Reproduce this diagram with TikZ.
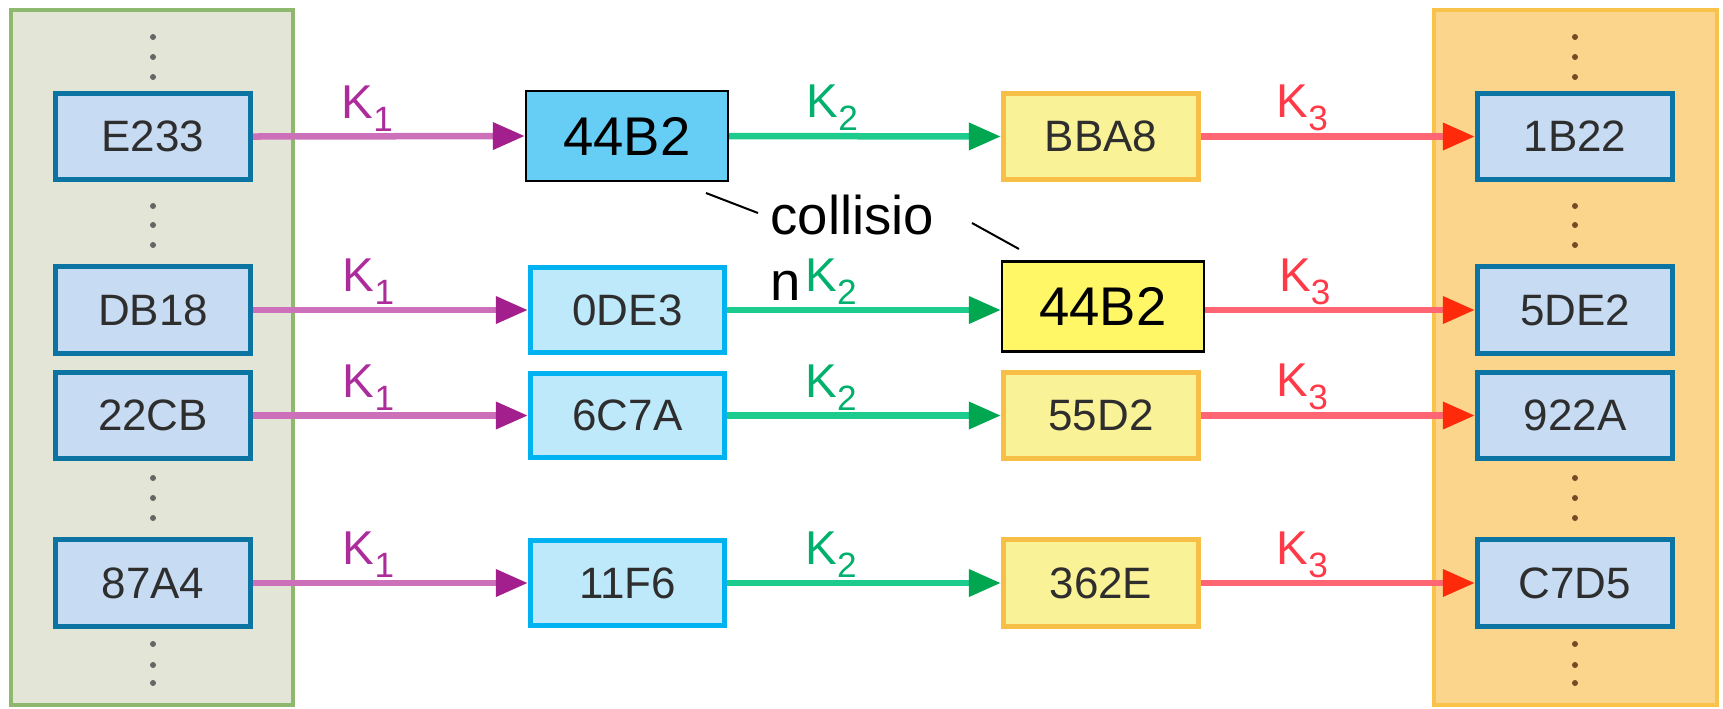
\documentclass[tikz,border=0pt]{standalone}
\usepackage{fontspec}
\setmainfont{Liberation Sans}
\usetikzlibrary{arrows.meta,positioning,calc}
\definecolor{srcfill}{HTML}{E3E5D6}
\definecolor{srcline}{HTML}{8DB86E}
\definecolor{dstfill}{HTML}{FAD58B}
\definecolor{dstline}{HTML}{F8C24B}
\definecolor{keyline}{HTML}{0B74A3}
\definecolor{keyfill}{HTML}{C7DCF3}
\definecolor{midline}{HTML}{00B2F0}
\definecolor{midfill}{HTML}{BEE9FB}
\definecolor{yelline}{HTML}{F7BF45}
\definecolor{yelfill}{HTML}{FAF296}
\definecolor{boxtext}{HTML}{2E2E2E}
\definecolor{kaline}{HTML}{CC70BA}
\definecolor{kahead}{HTML}{A31F8E}
\definecolor{katext}{HTML}{AD2C9C}
\definecolor{kbline}{HTML}{1DCB8C}
\definecolor{kbhead}{HTML}{00A650}
\definecolor{kbtext}{HTML}{00B06C}
\definecolor{kcline}{HTML}{FF6573}
\definecolor{kchead}{HTML}{FF2A0A}
\definecolor{kctext}{HTML}{FF3A48}
\newcommand{\kname}[1]{K\raisebox{-0.13cm}{\fontsize{10}{11}\selectfont #1}}

\begin{document}
\begin{tikzpicture}[
  x=0.01cm, y=-0.01cm,
  panel/.style={rectangle, draw, line width=0.04cm, minimum width=2.82cm, minimum height=6.95cm, inner sep=0},
  keybox/.style={rectangle, draw=keyline, fill=keyfill, line width=0.05cm, minimum width=1.95cm, minimum height=0.86cm, inner sep=0, text=boxtext, font=\fontsize{12.5}{14}\selectfont},
  midbox/.style={keybox, draw=midline, fill=midfill, minimum width=1.94cm, minimum height=0.84cm},
  yelbox/.style={keybox, draw=yelline, fill=yelfill},
  hitbox/.style={rectangle, draw=black, line width=0.025cm, minimum width=2.015cm, minimum height=0.9cm, inner sep=0, font=\fontsize{15.5}{18}\selectfont},
  arrow/.style={line width=0.065cm},
  ka/.style={arrow, draw=kaline, -{Triangle[length=0.32cm, width=0.26cm, color=kahead]}},
  kb/.style={arrow, draw=kbline, -{Triangle[length=0.32cm, width=0.26cm, color=kbhead]}},
  kc/.style={arrow, draw=kcline, -{Triangle[length=0.32cm, width=0.26cm, color=kchead]}},
  lab/.style={above=0.02cm, inner sep=0, font=\fontsize{13.5}{15}\selectfont}
]
  \useasboundingbox (0,0) rectangle (1723,708);
  % key columns
  \node[panel, draw=srcline, fill=srcfill] (src) at (152,357.5) {};
  \node[panel, draw=dstline, fill=dstfill, minimum width=2.83cm] (dst) at (1575.5,357.5) {};
  \foreach \y in {37,57,77,206,225,245,478,498,518,644,665,683} {
    \fill[gray!80!black] (153,\y) circle (0.03cm);
    \fill[brown!60!black] (1575,\y) circle (0.03cm);
  }
  \node[keybox] (inA) at (153,136.5) {E233};
  \node[keybox] (inB) at (153,310) {DB18};
  \node[keybox] (inC) at (153,415.5) {22CB};
  \node[keybox] (inD) at (153,583) {87A4};
  % first hash
  \node[hitbox, fill=cyan!60!white] (hA) at (627,136) {44B2};
  \node[midbox] (hB) at (627.5,310) {0DE3};
  \node[midbox] (hC) at (627.5,415.5) {6C7A};
  \node[midbox] (hD) at (627.5,583) {11F6};
  % second hash
  \node[yelbox] (gA) at (1101,136.5) {BBA8};
  \node[hitbox, fill=yellow!60!white] (gB) at (1103,306.5) {44B2};
  \node[yelbox] (gC) at (1101,415.5) {55D2};
  \node[yelbox] (gD) at (1101,583) {362E};
  % outputs
  \node[keybox] (outA) at (1575,136.5) {1B22};
  \node[keybox] (outB) at (1575,310) {5DE2};
  \node[keybox] (outC) at (1575,415.5) {922A};
  \node[keybox] (outD) at (1575,583) {C7D5};
  \foreach \r in {A,B,C,D} {
    \draw[ka] (in\r.east) -- (h\r.west -| h\r.west) node[lab, pos=0.42, text=katext] {\kname{1}};
  }
  \draw[kb] (hA.east) -- (gA.west) node[lab, pos=0.38, text=kbtext] {\kname{2}};
  \draw[kb] (hB.east) -- (hB.east -| gB.west) node[lab, pos=0.38, text=kbtext] {\kname{2}};
  \draw[kb] (hC.east) -- (gC.west) node[lab, pos=0.38, text=kbtext] {\kname{2}};
  \draw[kb] (hD.east) -- (gD.west) node[lab, pos=0.38, text=kbtext] {\kname{2}};
  \draw[kc] (gA.east) -- (outA.west) node[lab, pos=0.37, text=kctext] {\kname{3}};
  \draw[kc] (gB.east |- outB.west) -- (outB.west) node[lab, pos=0.37, text=kctext] {\kname{3}};
  \draw[kc] (gC.east) -- (outC.west) node[lab, pos=0.37, text=kctext] {\kname{3}};
  \draw[kc] (gD.east) -- (outD.west) node[lab, pos=0.37, text=kctext] {\kname{3}};
  % collision note
  \node[anchor=north west, inner sep=0, align=left, font=\fontsize{15.5}{18.8}\selectfont] (note) at (770,194) {collisio\\n};
  \coordinate (pA) at (706,193);
  \coordinate (pB) at (758,213);
  \coordinate (pC) at (972,223);
  \coordinate (pD) at (1019,249);
  \draw[line width=0.02cm] (pA) -- (pB);
  \draw[line width=0.02cm] (pC) -- (pD);
\end{tikzpicture}
\end{document}
